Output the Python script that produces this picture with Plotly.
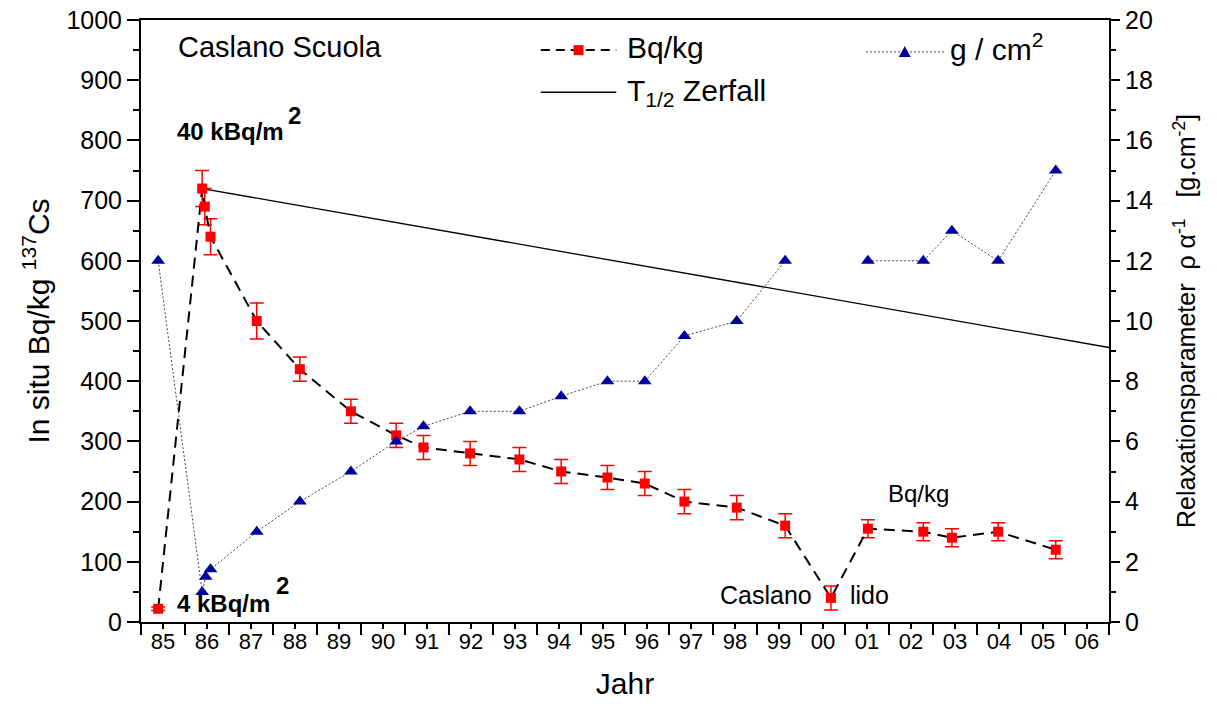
import plotly.graph_objects as go

# Caslano: in-situ 137Cs activity and relaxation parameter per year
year_labels = ["85", "86", "87", "88", "89", "90", "91", "92", "93", "94", "95",
               "96", "97", "98", "99", "00", "01", "02", "03", "04", "05", "06"]

# Bq/kg series (decimal years)
bq_x = [1985.39, 1986.39, 1986.45, 1986.58, 1987.63, 1988.61, 1989.77, 1990.80,
        1991.42, 1992.48, 1993.60, 1994.55, 1995.60, 1996.45, 1997.35, 1998.54,
        1999.64, 2000.68, 2001.52, 2002.78, 2003.43, 2004.48, 2005.79]
bq_y = [22, 720, 690, 640, 500, 420, 350, 310, 290, 280, 270, 250, 240, 230,
        200, 190, 160, 40, 155, 150, 140, 150, 120]
bq_err = [3, 30, 30, 30, 30, 20, 20, 20, 20, 20, 20, 20, 20, 20, 20, 20, 20,
          20, 15, 15, 15, 15, 15]

# relaxation parameter g/cm2 (no value in 2000)
gcm_x = [1985.39, 1986.39, 1986.47, 1986.58, 1987.63, 1988.61, 1989.77, 1990.80,
         1991.42, 1992.48, 1993.60, 1994.55, 1995.60, 1996.45, 1997.35, 1998.54,
         1999.64, 2000.68, 2001.52, 2002.78, 2003.43, 2004.48, 2005.79]
gcm_y = [12, 1, 1.5, 1.75, 3, 4, 5, 6, 6.5, 7, 7, 7.5, 8, 8, 9.5, 10, 12,
         None, 12, 12, 13, 12, 15]

# T1/2 decay line from the 1986 peak
decay_x = [1986.39, 2007.0]
decay_y = [720, 456]

FONT = "Liberation Sans, Arial, sans-serif"
RED = "#FF0000"
BLUE = "#00009C"

fig = go.Figure()

fig.add_trace(go.Scatter(
    x=decay_x, y=decay_y, mode="lines", name="T1/2 Zerfall",
    line=dict(color="black", width=1.3), yaxis="y",
))
fig.add_trace(go.Scatter(
    x=gcm_x, y=gcm_y, mode="lines+markers", name="g / cm2", yaxis="y2",
    connectgaps=False,
    line=dict(color="#444444", width=1, dash="2px,2px"),
    marker=dict(symbol="triangle-up", size=12, color=BLUE),
))
fig.add_trace(go.Scatter(
    x=bq_x, y=bq_y, mode="lines+markers", name="Bq/kg", yaxis="y",
    line=dict(color="black", width=2, dash="11px,7px"),
    marker=dict(symbol="square", size=10, color=RED),
    error_y=dict(type="data", array=bq_err, color=RED, thickness=1.5, width=7),
))

centers = [1985.5 + i for i in range(len(year_labels))]
bounds = [1985 + i for i in range(len(year_labels) + 1)]

fig.update_layout(
    width=1217, height=704,
    margin=dict(l=141, r=108, t=20, b=82),
    plot_bgcolor="white", paper_bgcolor="white",
    showlegend=False,
    font=dict(family=FONT, color="black"),
    xaxis=dict(
        range=[1985, 2007], tickmode="array", tickvals=centers, ticktext=year_labels,
        ticks="outside", ticklen=5, tickwidth=1.5, tickcolor="black",
        minor=dict(tickmode="array", tickvals=bounds, ticks="outside",
                   ticklen=11, tickwidth=1.5, tickcolor="black"),
        showline=True, linewidth=2, linecolor="black", mirror=True,
        showgrid=False, zeroline=False, automargin=False,
        ticklabelstandoff=-6,
        tickfont=dict(size=22, family=FONT),
        title=dict(text="Jahr", font=dict(size=30, family=FONT), standoff=20),
    ),
    yaxis=dict(
        range=[0, 1000], tickmode="linear", tick0=0, dtick=100,
        ticks="outside", ticklen=12, tickwidth=1.5, tickcolor="black",
        minor=dict(dtick=50, ticks="outside", ticklen=6, tickwidth=1.5, tickcolor="black"),
        showline=True, linewidth=2, linecolor="black",
        showgrid=False, zeroline=False, automargin=False,
        tickfont=dict(size=25, family=FONT),
        title=dict(text="In situ Bq/kg <sup>137</sup>Cs", font=dict(size=30, family=FONT),
                   standoff=8),
    ),
    yaxis2=dict(
        range=[0, 20], overlaying="y", side="right", tickmode="linear", tick0=0, dtick=2,
        ticks="outside", ticklen=9, tickwidth=1.5, tickcolor="black",
        minor=dict(dtick=1, ticks="outside", ticklen=5, tickwidth=1.5, tickcolor="black"),
        showline=True, linewidth=2, linecolor="black",
        showgrid=False, zeroline=False, automargin=False,
        tickfont=dict(size=25, family=FONT),
        title=dict(text="Relaxationsparameter  \u03c1 \u03b1<sup>-1</sup>   [g.cm<sup>-2</sup>]",
                   font=dict(size=25, family=FONT), standoff=26),
    ),
)

# legend keys drawn in paper space
shapes = [
    dict(type="line", xref="paper", yref="paper", x0=0.413, x1=0.491, y0=0.950, y1=0.950,
         line=dict(color="black", width=2, dash="9px,6px")),
    dict(type="rect", xref="paper", yref="paper", xsizemode="pixel", ysizemode="pixel",
         xanchor=0.452, yanchor=0.950, x0=-5, x1=5, y0=-5, y1=5,
         fillcolor=RED, line=dict(width=0)),
    dict(type="line", xref="paper", yref="paper", x0=0.413, x1=0.491, y0=0.880, y1=0.880,
         line=dict(color="black", width=1.3)),
    dict(type="line", xref="paper", yref="paper", x0=0.749, x1=0.830, y0=0.947, y1=0.947,
         line=dict(color="#444444", width=1, dash="2px,2px")),
    dict(type="path", xref="paper", yref="paper", xsizemode="pixel", ysizemode="pixel",
         xanchor=0.789, yanchor=0.947, path="M-6,-5 L6,-5 L0,6 Z",
         fillcolor=BLUE, line=dict(width=0)),
]

ann = []
def txt(text, x, y, size, xanchor="left", bold=False):
    if bold:
        text = "<b>" + text + "</b>"
    ann.append(dict(text=text, x=x, y=y, xref="paper", yref="paper", showarrow=False,
                    xanchor=xanchor, yanchor="middle",
                    font=dict(size=size, family=FONT, color="black")))

txt("Bq/kg", 0.500, 0.955, 30)
txt("T<sub>1/2</sub> Zerfall", 0.500, 0.880, 30)
txt("g / cm<sup>2</sup>", 0.834, 0.955, 30)
txt("Caslano Scuola", 0.036, 0.955, 29)
txt("40 kBq/m", 0.035, 0.815, 24, bold=True)
txt("2", 0.150, 0.842, 24, bold=True)
txt("4 kBq/m", 0.035, 0.030, 24, bold=True)
txt("2", 0.137, 0.061, 24, bold=True)
txt("Bq/kg", 0.803, 0.214, 24, xanchor="center")
txt("Caslano", 0.695, 0.045, 25, xanchor="right")
txt("lido", 0.730, 0.045, 25)

fig.update_layout(shapes=shapes, annotations=ann)

fig.write_html("out.html")
